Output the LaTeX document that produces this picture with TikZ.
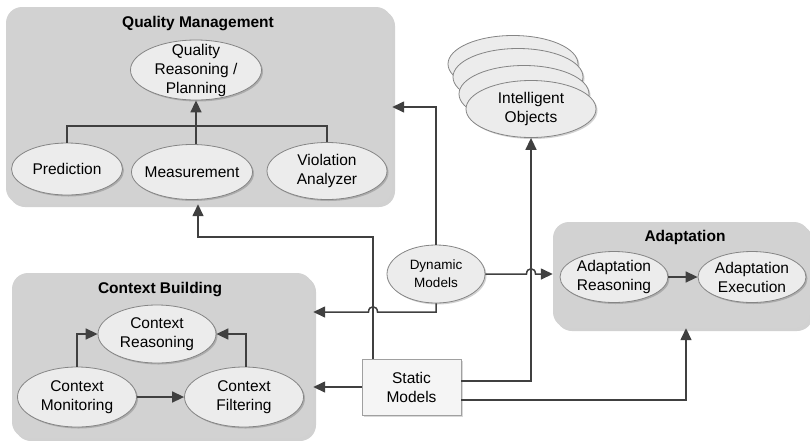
\documentclass[tikz,border=0pt]{standalone}
\usepackage{fontspec}
\setmainfont{Liberation Sans}
\usetikzlibrary{shapes.geometric,arrows.meta,shadows}
\definecolor{grpfill}{HTML}{D2D2D2}
\definecolor{ellfill}{HTML}{ECECEC}
\definecolor{ellline}{HTML}{858585}
\definecolor{linec}{HTML}{404040}
\definecolor{smfill}{HTML}{F5F5F5}
\definecolor{smline}{HTML}{A0A0A0}
\begin{document}
\begin{tikzpicture}[x=1pt,y=-1pt,
  font=\fontsize{15.5}{19}\selectfont,
  group/.style={rectangle, rounded corners=16pt, fill=grpfill, inner sep=0pt,
    drop shadow={shadow xshift=3pt, shadow yshift=-3pt, opacity=0.18, fill=black}},
  ttl/.style={font=\fontsize{15.5}{19}\selectfont\bfseries, inner sep=0pt},
  proc/.style={ellipse, draw=ellline, fill=ellfill, line width=0.8pt, inner sep=0pt,
    drop shadow={shadow xshift=1.5pt, shadow yshift=-1.5pt, opacity=0.18, fill=black}},
  txt/.style={align=center, inner sep=0pt},
  store/.style={rectangle, draw=smline, fill=smfill, line width=0.8pt, align=center, inner sep=0pt,
    drop shadow={shadow xshift=2pt, shadow yshift=-2pt, opacity=0.15, fill=black}},
  conn/.style={draw=linec, line width=1.5pt},
  arr/.style={conn, -{Triangle[length=12pt,width=11pt]}},
]
\useasboundingbox (0,0) rectangle (810,440);

% ---- group panels
\node[group, minimum width=386pt, minimum height=197pt] (qm) at (199,105.5) {};
\node[ttl] (qmt) at (198,24) {Quality Management};
\node[group, minimum width=301pt, minimum height=165pt] (cb) at (162.5,355.5) {};
\node[ttl] (cbt) at (160,290) {Context Building};
\node[group, minimum width=257pt, minimum height=106pt] (ad) at (681.5,275) {};
\node[ttl] (adt) at (685,237) {Adaptation};

% ---- quality management
\node[proc, minimum width=131pt, minimum height=60pt] (qr) at (196,70) {};
\node[txt] (qrt) at (qr) {Quality\\Reasoning /\\Planning};
\node[proc, minimum width=111pt, minimum height=52pt] (pred) at (67,169) {};
\node[txt] (predt) at (pred) {Prediction};
\node[proc, minimum width=121pt, minimum height=55pt] (meas) at (192,172) {};
\node[txt] (meast) at (meas) {Measurement};
\node[proc, minimum width=120pt, minimum height=57pt] (viol) at (327,171) {};
\node[txt] (violt) at (viol) {Violation\\Analyzer};
\coordinate (bar) at (0,126);
\draw[conn] (pred.north) -- (pred.north |- bar) -- (viol.north |- bar) -- (viol.north);
\draw[arr] (meas.north -| qr.south) -- (qr.south);

% ---- context building
\node[proc, minimum width=118pt, minimum height=58pt] (cr) at (157,334) {};
\node[txt] (crt) at (cr) {Context\\Reasoning};
\node[proc, minimum width=119pt, minimum height=60pt] (cm) at (77,397) {};
\node[txt] (cmt) at (cm) {Context\\Monitoring};
\node[proc, minimum width=119pt, minimum height=60pt] (cf) at (244,397) {};
\node[txt] (cft) at (cf) {Context\\Filtering};
\draw[arr] (cm.east) -- (cf.west);
\draw[arr] (cm.north) |- (cr.west);
\draw[arr] ([xshift=2pt]cf.north) |- (cr.east);

% ---- adaptation
\node[proc, minimum width=108pt, minimum height=51pt] (ar) at (614,277) {};
\node[txt] (art) at (ar) {Adaptation\\Reasoning};
\node[proc, minimum width=108pt, minimum height=51pt] (ae) at (752,277) {};
\node[txt] (aet) at (ae) {Adaptation\\Execution};
\draw[arr] (ar.east) -- (ae.west);

% ---- intelligent objects (stacked)
\node[proc, minimum width=130pt, minimum height=57pt] (io1) at (513,64) {};
\node[proc, minimum width=130pt, minimum height=57pt] (io2) at (518,77) {};
\node[proc, minimum width=130pt, minimum height=57pt] (io3) at (524,94) {};
\node[proc, minimum width=130pt, minimum height=57pt] (io) at (531,109) {};
\node[txt] (iot) at (io) {Intelligent\\Objects};

% ---- models
\node[proc, minimum width=98pt, minimum height=58pt] (dm) at (436,274) {};
\node[txt, font=\fontsize{13.5}{18}\selectfont] (dmt) at (dm) {Dynamic\\Models};
\node[store, minimum width=99pt, minimum height=56pt] (sm) at (411.5,387) {Static\\Models};

% ---- connectors
\draw[arr] (sm.north -| 373,0) -- (373,237) -| (qm.south -| 198,0);
\draw[arr] (dm.north) |- (qm.east |- 0,107);
\draw[arr] (dm.south) -- (dm.south |- 0,312) -- (377.5,312)
  .. controls (377.5,305) and (368.5,305) .. (368.5,312) -- (cb.east |- 0,312);
\draw[arr] (dm.east) -- (526.5,274)
  .. controls (526.5,267) and (535.5,267) .. (535.5,274) -- (ad.west |- dm.east);
\draw[arr] (sm.west) -- (cb.east |- sm.west);
\draw[arr] (sm.east |- 0,381) -| (io.south);
\draw[arr] (sm.east |- 0,400) -| (ad.south -| 686,0);
\end{tikzpicture}
\end{document}
